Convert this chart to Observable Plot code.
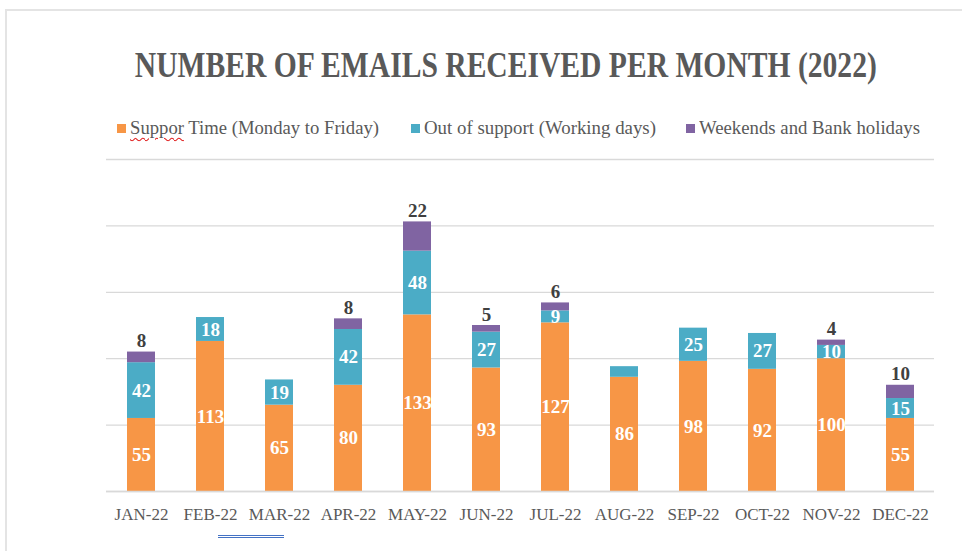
<!DOCTYPE html>
<html>
<head>
<meta charset="utf-8">
<script src="https://cdn.jsdelivr.net/npm/d3@7"></script>
<script src="https://cdn.jsdelivr.net/npm/@observablehq/plot@0.6"></script>
<style>
  body { margin: 0; background: #fff; }
  #wrap { position: relative; width: 962px; height: 551px; overflow: hidden; font-family: "Liberation Serif", serif; background: #fff; }
  #frame { position: absolute; left: 5px; top: 9px; width: 1000px; height: 600px; border-top: 2px solid #e4e4e4; border-left: 2px solid #e4e4e4; }
  #title { position: absolute; top: 43px; left: 0; width: 1012px; text-align: center; }
  #title span { display: inline-block; font-size: 35px; font-weight: bold; color: #595959; line-height: 46px; white-space: nowrap; transform-origin: center; }
  .leg { position: absolute; top: 118px; height: 20px; display: flex; align-items: center; white-space: nowrap; }
  .sw { width: 9px; height: 9px; margin-right: 4px; flex: none; }
  .lt { display: inline-block; font-size: 18px; color: #595959; transform-origin: left center; }
  .spell { text-decoration: underline wavy #e02020; text-decoration-thickness: 1px; text-underline-offset: 3px; }
  #chart { position: absolute; left: 0; top: 150px; }
  #grammar { position: absolute; left: 218px; top: 535px; width: 66px; height: 1px; border-top: 1px solid #4472c4; border-bottom: 1px solid #4472c4; }
</style>
</head>
<body>
<div id="wrap">
  <div id="frame"></div>
  <div id="title"><span id="titleText"></span></div>
  <div id="legend"></div>
  <div id="chart"></div>
  <div id="grammar"></div>
</div>
<script>
// ---- data ----
const titleText = "NUMBER OF EMAILS RECEIVED PER MONTH (2022)";
const months = ["JAN-22","FEB-22","MAR-22","APR-22","MAY-22","JUN-22","JUL-22","AUG-22","SEP-22","OCT-22","NOV-22","DEC-22"];
const supportTime = [55, 113, 65, 80, 133, 93, 127, 86, 98, 92, 100, 55];
const outOfSupport = [42, 18, 19, 42, 48, 27, 9, 8, 25, 27, 10, 15];
const weekendsHolidays = [8, 0, 0, 8, 22, 5, 6, 0, 0, 0, 4, 10];
const seriesNames = ["Suppor Time (Monday to Friday)", "Out of support (Working days)", "Weekends and Bank holidays"];
const seriesColors = ["#F79646", "#4BACC6", "#8064A2"];
const yTicks = [0, 50, 100, 150, 200, 250];

// ---- title ----
const tEl = document.getElementById("titleText");
tEl.textContent = titleText;
const tw = tEl.getBoundingClientRect().width;
tEl.style.transform = `scaleX(${742 / tw})`;

// ---- legend ----
const legendX = [117, 411, 686];
const legendW = [249, 232, 221];
const legend = document.getElementById("legend");
seriesNames.forEach((name, k) => {
  const item = document.createElement("div");
  item.className = "leg";
  item.style.left = legendX[k] + "px";
  const sw = document.createElement("span");
  sw.className = "sw";
  sw.style.background = seriesColors[k];
  const lt = document.createElement("span");
  lt.className = "lt";
  if (name.startsWith("Suppor ")) {
    const s = document.createElement("span");
    s.className = "spell";
    s.textContent = "Suppor";
    lt.appendChild(s);
    lt.appendChild(document.createTextNode(name.slice(6)));
  } else {
    lt.textContent = name;
  }
  item.appendChild(sw);
  item.appendChild(lt);
  legend.appendChild(item);
  const w = lt.getBoundingClientRect().width;
  lt.style.transform = `scaleX(${legendW[k] / w})`;
});

// ---- tidy rows ----
const seriesValues = [supportTime, outOfSupport, weekendsHolidays];
const rows = [];
months.forEach((m, i) => {
  seriesValues.forEach((arr, k) => rows.push({ month: m, series: seriesNames[k], k, value: arr[i] }));
});
const tops = months.map((m, i) => ({
  month: m,
  total: supportTime[i] + outOfSupport[i] + weekendsHolidays[i],
  w: weekendsHolidays[i]
})).filter(d => d.w > 0);

const plot = Plot.plot({
  width: 962,
  height: 401,
  marginTop: 9,
  marginBottom: 60,
  marginLeft: 106,
  marginRight: 28,
  x: { domain: months, paddingInner: 0.6, paddingOuter: 0.3, label: null },
  y: { domain: [0, 250], axis: null },
  color: { domain: seriesNames, range: seriesColors },
  style: { fontFamily: "Liberation Serif", background: "transparent" },
  marks: [
    Plot.gridY(yTicks, { stroke: "#d9d9d9", strokeOpacity: 1, strokeWidth: 1.3 }),
    Plot.barY(rows, { x: "month", y: "value", z: "series", fill: "series" }),
    Plot.ruleY([0], { stroke: "#d9d9d9", strokeWidth: 1.6 }),
    Plot.text(rows, Plot.stackY({
      x: "month", y: "value", z: "series",
      text: d => (d.k < 2 && d.value >= 9) ? String(d.value) : null,
      fill: "white", fontWeight: "bold", fontSize: 19
    })),
    Plot.text(tops, { x: "month", y: "total", text: "w", dy: -11, fill: "#404040", fontWeight: "bold", fontSize: 19 }),
    Plot.axisX({ tickSize: 0, tickPadding: 16, fontSize: 17, color: "#595959", label: null })
  ]
});
document.getElementById("chart").appendChild(plot);
</script>
</body>
</html>
